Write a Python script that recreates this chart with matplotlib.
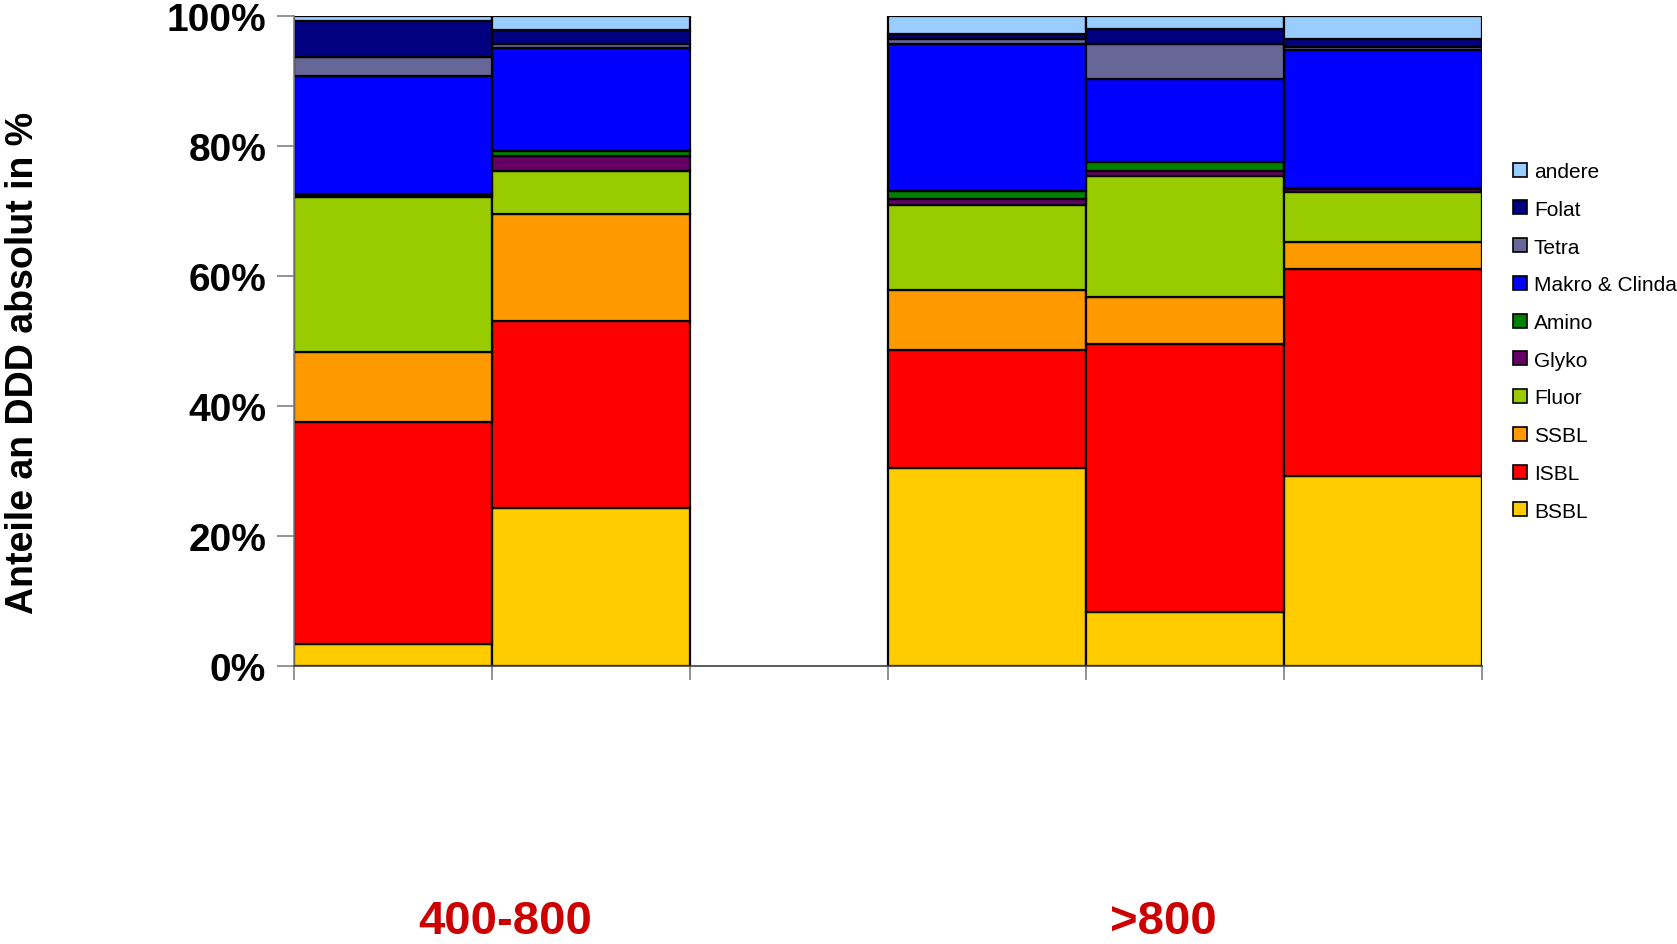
import numpy as np
import matplotlib
matplotlib.use("Agg")
import matplotlib.pyplot as plt
from matplotlib.patches import Patch

plt.rcParams['font.family'] = ['Liberation Sans', 'DejaVu Sans']

# slot positions of the five bars (slot 2 stays empty)
positions = [0, 1, 3, 4, 5]
groups = ["400-800", ">800"]

# shares in % per bar, stacked bottom -> top
series = ["BSBL", "ISBL", "SSBL", "Fluor", "Glyko", "Amino",
          "Makro & Clinda", "Tetra", "Folat", "andere"]
bsbl = [3.3, 24.2, 30.5, 8.2, 29.2]
isbl = [34.3, 28.8, 18.1, 41.4, 31.8]
ssbl = [10.7, 16.5, 9.2, 7.2, 4.2]
fluor = [23.9, 6.6, 13.1, 18.7, 7.6]
glyko = [0.2, 2.3, 0.9, 0.7, 0.5]
amino = [0.2, 0.8, 1.3, 1.5, 0.2]
makro = [18.2, 15.8, 22.7, 12.7, 21.2]
tetra = [3.0, 0.6, 0.7, 5.4, 0.4]
folat = [5.4, 2.2, 0.7, 2.3, 1.3]
andere = [0.8, 2.1, 2.8, 2.0, 3.5]

colors = ["#FFCC00", "#FF0000", "#FF9900", "#99CC00", "#660066",
          "#008000", "#0000FF", "#666699", "#000080", "#99CCFF"]

data = np.array([bsbl, isbl, ssbl, fluor, glyko, amino, makro, tetra, folat, andere])
data = data / data.sum(axis=0) * 100

fig = plt.figure(figsize=(16.77, 9.45), dpi=100)
ax = fig.add_axes([0.1753, 0.2945, 0.7084, 0.6872])

bottom = np.zeros(len(positions))
for name, vals, col in zip(series, data, colors):
    ax.bar(positions, vals, width=1.0, bottom=bottom, color=col,
           edgecolor="black", linewidth=1.6, label=name)
    bottom += vals

ax.set_xlim(-0.5, 5.5)
ax.set_ylim(0, 100)
ax.set_xticks(np.arange(-0.5, 6, 1.0))
ax.set_xticklabels([])
ax.set_yticks(range(0, 101, 20))
ax.set_yticklabels([f"{v}%" for v in range(0, 101, 20)],
                   fontsize=28, fontweight="bold")
ax.tick_params(axis="y", length=12, width=1.2, color="#808080", pad=8)
ax.tick_params(axis="x", length=10, width=1.2, color="#808080")
for s in ["top", "right"]:
    ax.spines[s].set_visible(False)
ax.spines["left"].set_color("#808080")
ax.spines["bottom"].set_color("#404040")
ax.spines["left"].set_linewidth(1.2)
ax.spines["bottom"].set_linewidth(1.2)

fig.text(0.014, 0.616, "Anteile an DDD absolut in %", rotation=90,
         fontsize=27, fontweight="bold", ha="center", va="center")

fig.text(505 / 1677, 1 - 922 / 945, groups[0], color="#CC0000",
         fontsize=34, fontweight="bold", ha="center", va="center")
fig.text(1163 / 1677, 1 - 922 / 945, groups[1], color="#CC0000",
         fontsize=34, fontweight="bold", ha="center", va="center")

handles = [Patch(facecolor=c, edgecolor="black", linewidth=1.2)
           for c in colors][::-1]
ax.legend(handles, series[::-1], loc="upper left",
          bbox_to_anchor=(1513 / 1677, 1 - 163 / 945),
          bbox_transform=fig.transFigure, frameon=False, fontsize=15,
          handlelength=0.65, handleheight=0.65, handletextpad=0.35,
          labelspacing=0.9, borderaxespad=0, borderpad=0)

fig.savefig("out.png", dpi=100)
